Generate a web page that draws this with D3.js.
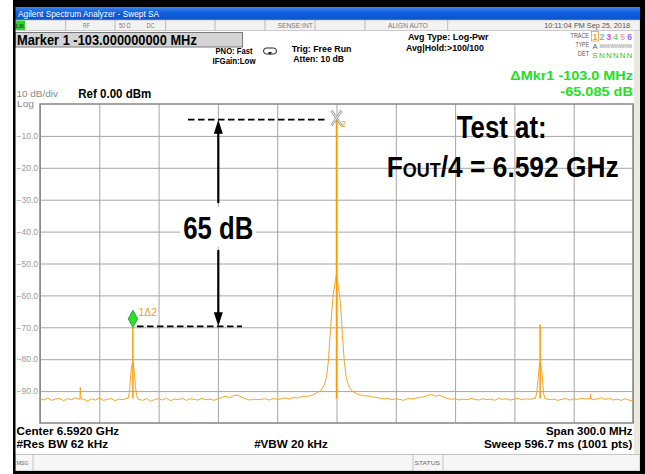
<!DOCTYPE html>
<html>
<head>
<meta charset="utf-8">
<script src="https://cdn.jsdelivr.net/npm/d3@7"></script>
<style>
  body { margin: 0; background: #fff; }
  svg text { font-family: "Liberation Sans", Arial, sans-serif; }
</style>
</head>
<body>
<div id="chart"></div>
<script>
// Spectrum analyzer screen: center 6.592 GHz, span 300 MHz, offsets in MHz
var yTicks = [-10, -20, -30, -40, -50, -60, -70, -80, -90];
var xGrid = [-150, -120, -90, -60, -30, 0, 30, 60, 90, 120, 150];

// noise floor, one value every 2 MHz from -150 to +150
var floorLevels = [
  -92.4,-92.8,-92.2,-92.9,-92.5,-92.3,-93.0,-92.4,-92.7,-92.1,
  -92.6,-92.5,-93.1,-92.4,-92.8,-92.2,-92.9,-92.6,-92.3,-93.0,
  -92.5,-92.7,-92.2,-92.3,-92.4,-92.6,-92.9,-92.3,-93.2,-92.6,
  -92.4,-92.8,-92.2,-93.0,-92.5,-92.7,-92.3,-92.9,-92.4,-92.6,
  -92.8,-92.3,-92.7,-92.5,-92.9,-92.4,-92.0,-91.6,-92.1,-91.4,
  -91.2,-91.9,-92.4,-92.8,-92.5,-92.7,-92.6,-92.4,-92.8,-92.3,
  -92.6,-92.4,-92.1,-92.5,-92.0,-92.2,-91.8,-91.6,-91.3,-91.0,
  -91.0,-91.0,-91.0,-91.0,-91.0,-91.0,-91.0,-91.0,-91.0,-91.0,
  -90.9,-91.0,-91.2,-91.5,-91.8,-92.0,-92.2,-92.5,-92.3,-92.7,
  -92.4,-92.6,-92.9,-92.3,-92.5,-92.2,-92.0,-91.8,-91.4,-91.0,
  -91.6,-91.3,-91.8,-92.3,-92.6,-92.4,-92.8,-92.5,-92.7,-92.3,
  -92.6,-92.8,-92.4,-92.7,-92.5,-92.9,-92.3,-92.6,-92.4,-92.8,
  -92.5,-92.3,-92.7,-92.4,-92.6,-92.2,-92.4,-92.5,-92.4,-92.7,
  -92.5,-92.9,-92.6,-92.3,-92.8,-92.4,-92.6,-92.2,-92.5,-92.3,
  -92.7,-92.4,-92.1,-92.6,-92.3,-92.8,-92.5,-92.9,-92.4,-92.8,
  -93.2
];

// averaged trace around the three tones
var skirtLeftF  = [-105.5,-104.8,-104.3,-103.8,-103.3,-103.0,-102.7,-102.2,-101.7,-101.2,-100.6];
var skirtLeftDb = [-92.3,-90.5,-86.5,-83.0,-81.2,-80.9,-81.6,-84.5,-88.5,-91.0,-92.4];
var skirtMainF  = [-14,-12,-10,-8,-7,-6,-5,-4,-3.5,-3,-2.5,-2,-1.5,-1,-0.5,0,0.5,1,1.5,2,2.5,3,3.5,4,5,6,7,8,10,12,14];
var skirtMainDb = [-91.6,-91.2,-90.6,-89.8,-89.0,-87.8,-85.5,-80.0,-74.5,-70.5,-66.0,-62.0,-59.0,-57.0,-55.0,-53.5,-55.5,-57.5,-59.5,-62.5,-67.0,-72.5,-77.0,-81.0,-86.0,-88.0,-89.3,-90.0,-90.8,-91.2,-91.5];
var skirtRightF  = [100.5,101.2,101.7,102.2,102.7,103.0,103.3,103.8,104.3,104.8,105.5];
var skirtRightDb = [-92.4,-91.0,-88.0,-84.5,-81.8,-81.0,-81.3,-83.5,-87.0,-90.8,-92.4];

// narrow spurs on the floor
var spurF  = [-129.6, 128.6];
var spurDb = [-88.8, -91.0];

// peak (trace 1) lines
var peakF  = [-103, 0, 103];
var peakDb = [-70.0, -4.9, -69.1];

var W = 645, H = 474;
var plot = {left: 40, right: 633, top: 104, bottom: 423};

var x = d3.scaleLinear().domain([-150, 150]).range([plot.left, plot.right]);
var y = d3.scaleLinear().domain([0, -100]).range([plot.top, plot.bottom]);

var svg = d3.select("#chart").append("svg")
    .attr("width", W).attr("height", H);

function label(x0, y0, str, o) {
    var t = svg.append("text")
        .attr("x", x0).attr("y", y0)
        .attr("font-size", o.size)
        .attr("font-weight", o.bold ? "bold" : "normal")
        .attr("fill", o.fill || "#000")
        .attr("text-anchor", o.anchor || "start")
        .text(str);
    if (o.w) fitWidth(t, x0, o.w);
    return t;
}
function fitWidth(t, x0, w) {
    var bw = t.node().getBBox().width;
    if (bw > 0) {
        var k = w / bw;
        t.attr("transform", "translate(" + x0 + ",0) scale(" + k + ",1) translate(" + (-x0) + ",0)");
    }
}

// frame
svg.append("rect").attr("width", W).attr("height", H).attr("fill", "#fff");
var defs = svg.append("defs");
var grad = defs.append("linearGradient").attr("id", "titleGrad").attr("x1", 0).attr("x2", 0).attr("y1", 0).attr("y2", 1);
grad.append("stop").attr("offset", "0%").attr("stop-color", "#3a86f0");
grad.append("stop").attr("offset", "45%").attr("stop-color", "#0f5fdc");
grad.append("stop").attr("offset", "100%").attr("stop-color", "#0b54cc");

svg.append("rect").attr("x", 15).attr("y", 7).attr("width", 625).attr("height", 13).attr("fill", "url(#titleGrad)");
label(18, 17.5, "Agilent Spectrum Analyzer - Swept SA", {size: 9.5, fill: "#fff", w: 142});

// status row
svg.append("rect").attr("x", 15).attr("y", 20).attr("width", 625).attr("height", 10.5)
    .attr("fill", "#f2f2f2").attr("stroke", "#b0b0b0").attr("stroke-width", 0.6);
[65.7, 115, 165.7, 215, 265, 315, 365, 447.7].forEach(function(d) {
    svg.append("line").attr("x1", d).attr("x2", d).attr("y1", 20).attr("y2", 30.5)
        .attr("stroke", "#a8a8a8").attr("stroke-width", 0.8);
});
svg.append("rect").attr("x", 15).attr("y", 20.5).attr("width", 10).attr("height", 9.5).attr("fill", "#2fd12f");
label(16, 28, "LXI", {size: 6, bold: true, fill: "#1a3a1a", w: 8});
label(83, 28, "RF", {size: 7.5, fill: "#777", w: 7});
label(119, 28, "50 Ω", {size: 7.5, fill: "#777", w: 12});
label(146.5, 28, "DC", {size: 7.5, fill: "#777", w: 8.5});
label(313, 28, "SENSE:INT", {size: 7.5, fill: "#777", anchor: "end", w: 36});
label(388, 28, "ALIGN AUTO", {size: 7.5, fill: "#777", w: 40});
label(630, 28, "10:11:04 PM Sep 25, 2018", {size: 7.5, fill: "#555", anchor: "end", w: 86});

// right strip
svg.append("rect").attr("x", 634).attr("y", 31).attr("width", 6).attr("height", 424).attr("fill", "#ebe8df");

// marker readout
svg.append("rect").attr("x", 15.5).attr("y", 32.5).attr("width", 227).attr("height", 14.5)
    .attr("fill", "#d4d4d4").attr("stroke", "#7a7a7a").attr("stroke-width", 1);
label(17, 45, "Marker 1 -103.000000000 MHz", {size: 14, bold: true, w: 180});

label(234, 54.5, "PNO: Fast", {size: 9, bold: true, anchor: "middle", w: 37});
label(234, 64, "IFGain:Low", {size: 9, bold: true, anchor: "middle", w: 44});
svg.append("rect").attr("x", 263.5).attr("y", 48).attr("width", 13).attr("height", 6).attr("rx", 3)
    .attr("fill", "#fff").attr("stroke", "#222").attr("stroke-width", 1);
svg.append("path").attr("d", "M268,52 L272,52 L270,55 Z").attr("fill", "#222");
label(291.7, 52, "Trig: Free Run", {size: 9.5, bold: true, w: 60});
label(293.3, 62.5, "Atten: 10 dB", {size: 9.5, bold: true, w: 51});
label(408, 40.5, "Avg Type: Log-Pwr", {size: 9.5, bold: true, w: 81});
label(406, 51, "Avg|Hold:>100/100", {size: 9.5, bold: true, w: 78});

// trace table
label(589, 38.5, "TRACE", {size: 6.5, fill: "#555", anchor: "end", w: 19});
label(589, 47.5, "TYPE", {size: 6.5, fill: "#555", anchor: "end", w: 14});
label(589, 56.5, "DET", {size: 6.5, fill: "#555", anchor: "end", w: 11});
var traceNums = ["1", "2", "3", "4", "5", "6"];
var traceCols = ["#f0a020", "#3cc8f0", "#f040e0", "#80d080", "#f0a0c0", "#9070ff"];
svg.append("rect").attr("x", 591.5).attr("y", 31.5).attr("width", 7).attr("height", 9.5)
    .attr("fill", "none").attr("stroke", "#f0a020").attr("stroke-width", 0.8);
traceNums.forEach(function(d, i) {
    label(595 + i * 6.9, 39.5, d, {size: 8.5, bold: true, fill: traceCols[i], anchor: "middle"});
});
label(595, 48.5, "A", {size: 7.5, fill: "#666", anchor: "middle"});
label(599.5, 48.5, "WWWWWWWWW", {size: 5, fill: "#888", w: 33});
["S", "N", "N", "N", "N", "N"].forEach(function(d, i) {
    label(595 + i * 6.9, 58, d, {size: 8, fill: "#2cc82c", anchor: "middle"});
});

label(633, 80.5, "ΔMkr1 -103.0 MHz", {size: 13.5, bold: true, fill: "#22e022", anchor: "end", w: 123});
label(633, 96, "-65.085 dB", {size: 13.5, bold: true, fill: "#22e022", anchor: "end", w: 73});

label(16.5, 97, "10 dB/div", {size: 9, fill: "#8a8a8a", w: 42});
label(78.3, 98.5, "Ref 0.00 dBm", {size: 12.5, bold: true, w: 73});
label(17, 107.5, "Log", {size: 9, fill: "#8a8a8a", w: 17});

// plot area
var gPlot = svg.append("g");
gPlot.append("rect").attr("x", plot.left).attr("y", plot.top)
    .attr("width", plot.right - plot.left).attr("height", plot.bottom - plot.top)
    .attr("fill", "#fff");

gPlot.append("g")
    .attr("transform", "translate(0," + plot.bottom + ")")
    .call(d3.axisBottom(x).tickValues(xGrid).tickSize(-(plot.bottom - plot.top)).tickFormat(""))
    .call(function(g) { g.select(".domain").remove(); })
    .selectAll("line").attr("stroke", "#a6a6a6").attr("stroke-width", 1);

var yAxis = gPlot.append("g")
    .attr("transform", "translate(" + plot.left + ",0)")
    .call(d3.axisLeft(y).tickValues(yTicks).tickSize(-(plot.right - plot.left)).tickPadding(2)
        .tickFormat(function(d) { return d3.format(".1f")(d); }));
yAxis.select(".domain").remove();
yAxis.selectAll("line").attr("stroke", "#a6a6a6").attr("stroke-width", 1);
yAxis.selectAll("text").attr("fill", "#999").attr("font-size", 8.5)
    .attr("font-family", "Liberation Sans, Arial, sans-serif");

gPlot.append("rect").attr("x", plot.left).attr("y", plot.top)
    .attr("width", plot.right - plot.left).attr("height", plot.bottom - plot.top)
    .attr("fill", "none").attr("stroke", "#858585").attr("stroke-width", 1.5);

// build the averaged trace
var skirts = [[skirtLeftF, skirtLeftDb], [skirtMainF, skirtMainDb], [skirtRightF, skirtRightDb]];
var pts = [];
floorLevels.forEach(function(v, i) {
    var f = -150 + 2 * i;
    var inside = skirts.some(function(s) { return f >= s[0][0] && f <= s[0][s[0].length - 1]; });
    if (!inside) pts.push({f: f, db: v});
});
skirts.forEach(function(s) {
    s[0].forEach(function(f, i) { pts.push({f: f, db: s[1][i]}); });
});
spurF.forEach(function(f, i) {
    pts.push({f: f - 0.25, db: -92.5});
    pts.push({f: f, db: spurDb[i]});
    pts.push({f: f + 0.25, db: -92.5});
});
pts.sort(function(a, b) { return a.f - b.f; });

defs.append("clipPath").attr("id", "plotClip").append("rect")
    .attr("x", plot.left).attr("y", plot.top)
    .attr("width", plot.right - plot.left).attr("height", plot.bottom - plot.top);

var line = d3.line().x(function(d) { return x(d.f); }).y(function(d) { return y(d.db); });
gPlot.append("path").datum(pts)
    .attr("clip-path", "url(#plotClip)")
    .attr("d", line)
    .attr("fill", "none").attr("stroke", "#f7a428").attr("stroke-width", 1);

gPlot.selectAll(".peak").data(peakF).enter().append("line")
    .attr("class", "peak")
    .attr("x1", function(d) { return x(d); }).attr("x2", function(d) { return x(d); })
    .attr("y1", y(-92.3)).attr("y2", function(d, i) { return y(peakDb[i]); })
    .attr("stroke", "#ff9a00").attr("stroke-width", 1.5);

// marker 2 (X) on main tone
var mx = x(peakF[1]), my = y(peakDb[1]);
[["M", -5, -9, "L", 5, 6], ["M", 5, -9, "L", -5, 6]].forEach(function(p) {
    var d = "M" + (mx + p[1]) + "," + (my + p[2]) + "L" + (mx + p[4]) + "," + (my + p[5]);
    gPlot.append("path").attr("d", d).attr("stroke", "#999").attr("stroke-width", 2.6).attr("fill", "none");
    gPlot.append("path").attr("d", d).attr("stroke", "#fff").attr("stroke-width", 0.9).attr("fill", "none");
});
label(mx + 4.5, my + 7.5, "2", {size: 9, fill: "#f0a020"});

// marker 1 delta (diamond) on left tone
var dx = x(peakF[0]), dy = y(peakDb[0]);
gPlot.append("path")
    .attr("d", "M" + dx + "," + (dy - 17) + "L" + (dx + 4.7) + "," + (dy - 8.5) + "L" + dx + "," + dy + "L" + (dx - 4.7) + "," + (dy - 8.5) + "Z")
    .attr("fill", "#2ee02e").attr("stroke", "#169016").attr("stroke-width", 0.8);
label(dx + 5.5, dy - 11.5, "1Δ2", {size: 10, fill: "#f0a020", w: 19});

// 65 dB annotation
var ax = 218.3;
gPlot.append("line").attr("x1", 188).attr("x2", 325).attr("y1", my).attr("y2", my)
    .attr("stroke", "#000").attr("stroke-width", 1.8).attr("stroke-dasharray", "6.5,3.5");
gPlot.append("line").attr("x1", 137).attr("x2", 242).attr("y1", dy - 1).attr("y2", dy - 1)
    .attr("stroke", "#000").attr("stroke-width", 1.8).attr("stroke-dasharray", "6.5,3.5");
gPlot.append("line").attr("x1", ax).attr("x2", ax).attr("y1", my + 12).attr("y2", 203)
    .attr("stroke", "#000").attr("stroke-width", 2.2);
gPlot.append("line").attr("x1", ax).attr("x2", ax).attr("y1", 250).attr("y2", dy - 13)
    .attr("stroke", "#000").attr("stroke-width", 2.2);
gPlot.append("path").attr("d", "M" + ax + "," + my + "L" + (ax + 4.5) + "," + (my + 14) + "L" + (ax - 4.5) + "," + (my + 14) + "Z").attr("fill", "#000");
gPlot.append("path").attr("d", "M" + ax + "," + (dy - 1) + "L" + (ax + 4.5) + "," + (dy - 15) + "L" + (ax - 4.5) + "," + (dy - 15) + "Z").attr("fill", "#000");
svg.append("rect").attr("x", 180).attr("y", 207).attr("width", 76).attr("height", 40).attr("fill", "#fff");
label(ax, 239.5, "65 dB", {size: 32, bold: true, anchor: "middle", w: 70});

// test note
label(501.7, 137.7, "Test at:", {size: 30.5, bold: true, anchor: "middle", w: 90});
var fo = svg.append("text").attr("x", 386.7).attr("y", 176.7)
    .attr("font-size", 30).attr("font-weight", "bold").attr("fill", "#000");
fo.append("tspan").text("F");
fo.append("tspan").attr("font-size", 20.5).text("OUT");
fo.append("tspan").text("/4 = 6.592 GHz");
fitWidth(fo, 386.7, 232);

// bottom annotation
label(16.5, 435.5, "Center 6.5920 GHz", {size: 11.5, bold: true, w: 103});
label(16.5, 448, "#Res BW 62 kHz", {size: 11.5, bold: true, w: 92});
label(291, 448, "#VBW 20 kHz", {size: 11.5, bold: true, anchor: "middle", w: 74});
label(632.5, 435.5, "Span 300.0 MHz", {size: 11.5, bold: true, anchor: "end", w: 87});
label(632.5, 448, "Sweep  596.7 ms (1001 pts)", {size: 11.5, bold: true, anchor: "end", w: 149});

// message bar
svg.append("rect").attr("x", 15).attr("y", 454.5).attr("width", 625).attr("height", 16.5)
    .attr("fill", "#f6f6f6").attr("stroke", "#b8b8b8").attr("stroke-width", 0.8);
[33, 413, 443].forEach(function(d) {
    svg.append("line").attr("x1", d).attr("x2", d).attr("y1", 454.5).attr("y2", 471)
        .attr("stroke", "#b8b8b8").attr("stroke-width", 0.8);
});
label(16.5, 465.5, "MSG", {size: 5.5, fill: "#666", w: 12});
label(414.5, 465.5, "STATUS", {size: 5.5, fill: "#666", w: 26});

// black outer border
svg.append("rect").attr("x", 13).attr("y", 0).attr("width", 632).attr("height", 7).attr("fill", "#000");
svg.append("rect").attr("x", 13).attr("y", 0).attr("width", 2.5).attr("height", H).attr("fill", "#000");
svg.append("rect").attr("x", 640).attr("y", 0).attr("width", 5).attr("height", H).attr("fill", "#000");
svg.append("rect").attr("x", 13).attr("y", 471).attr("width", 632).attr("height", 3).attr("fill", "#000");
</script>
</body>
</html>
